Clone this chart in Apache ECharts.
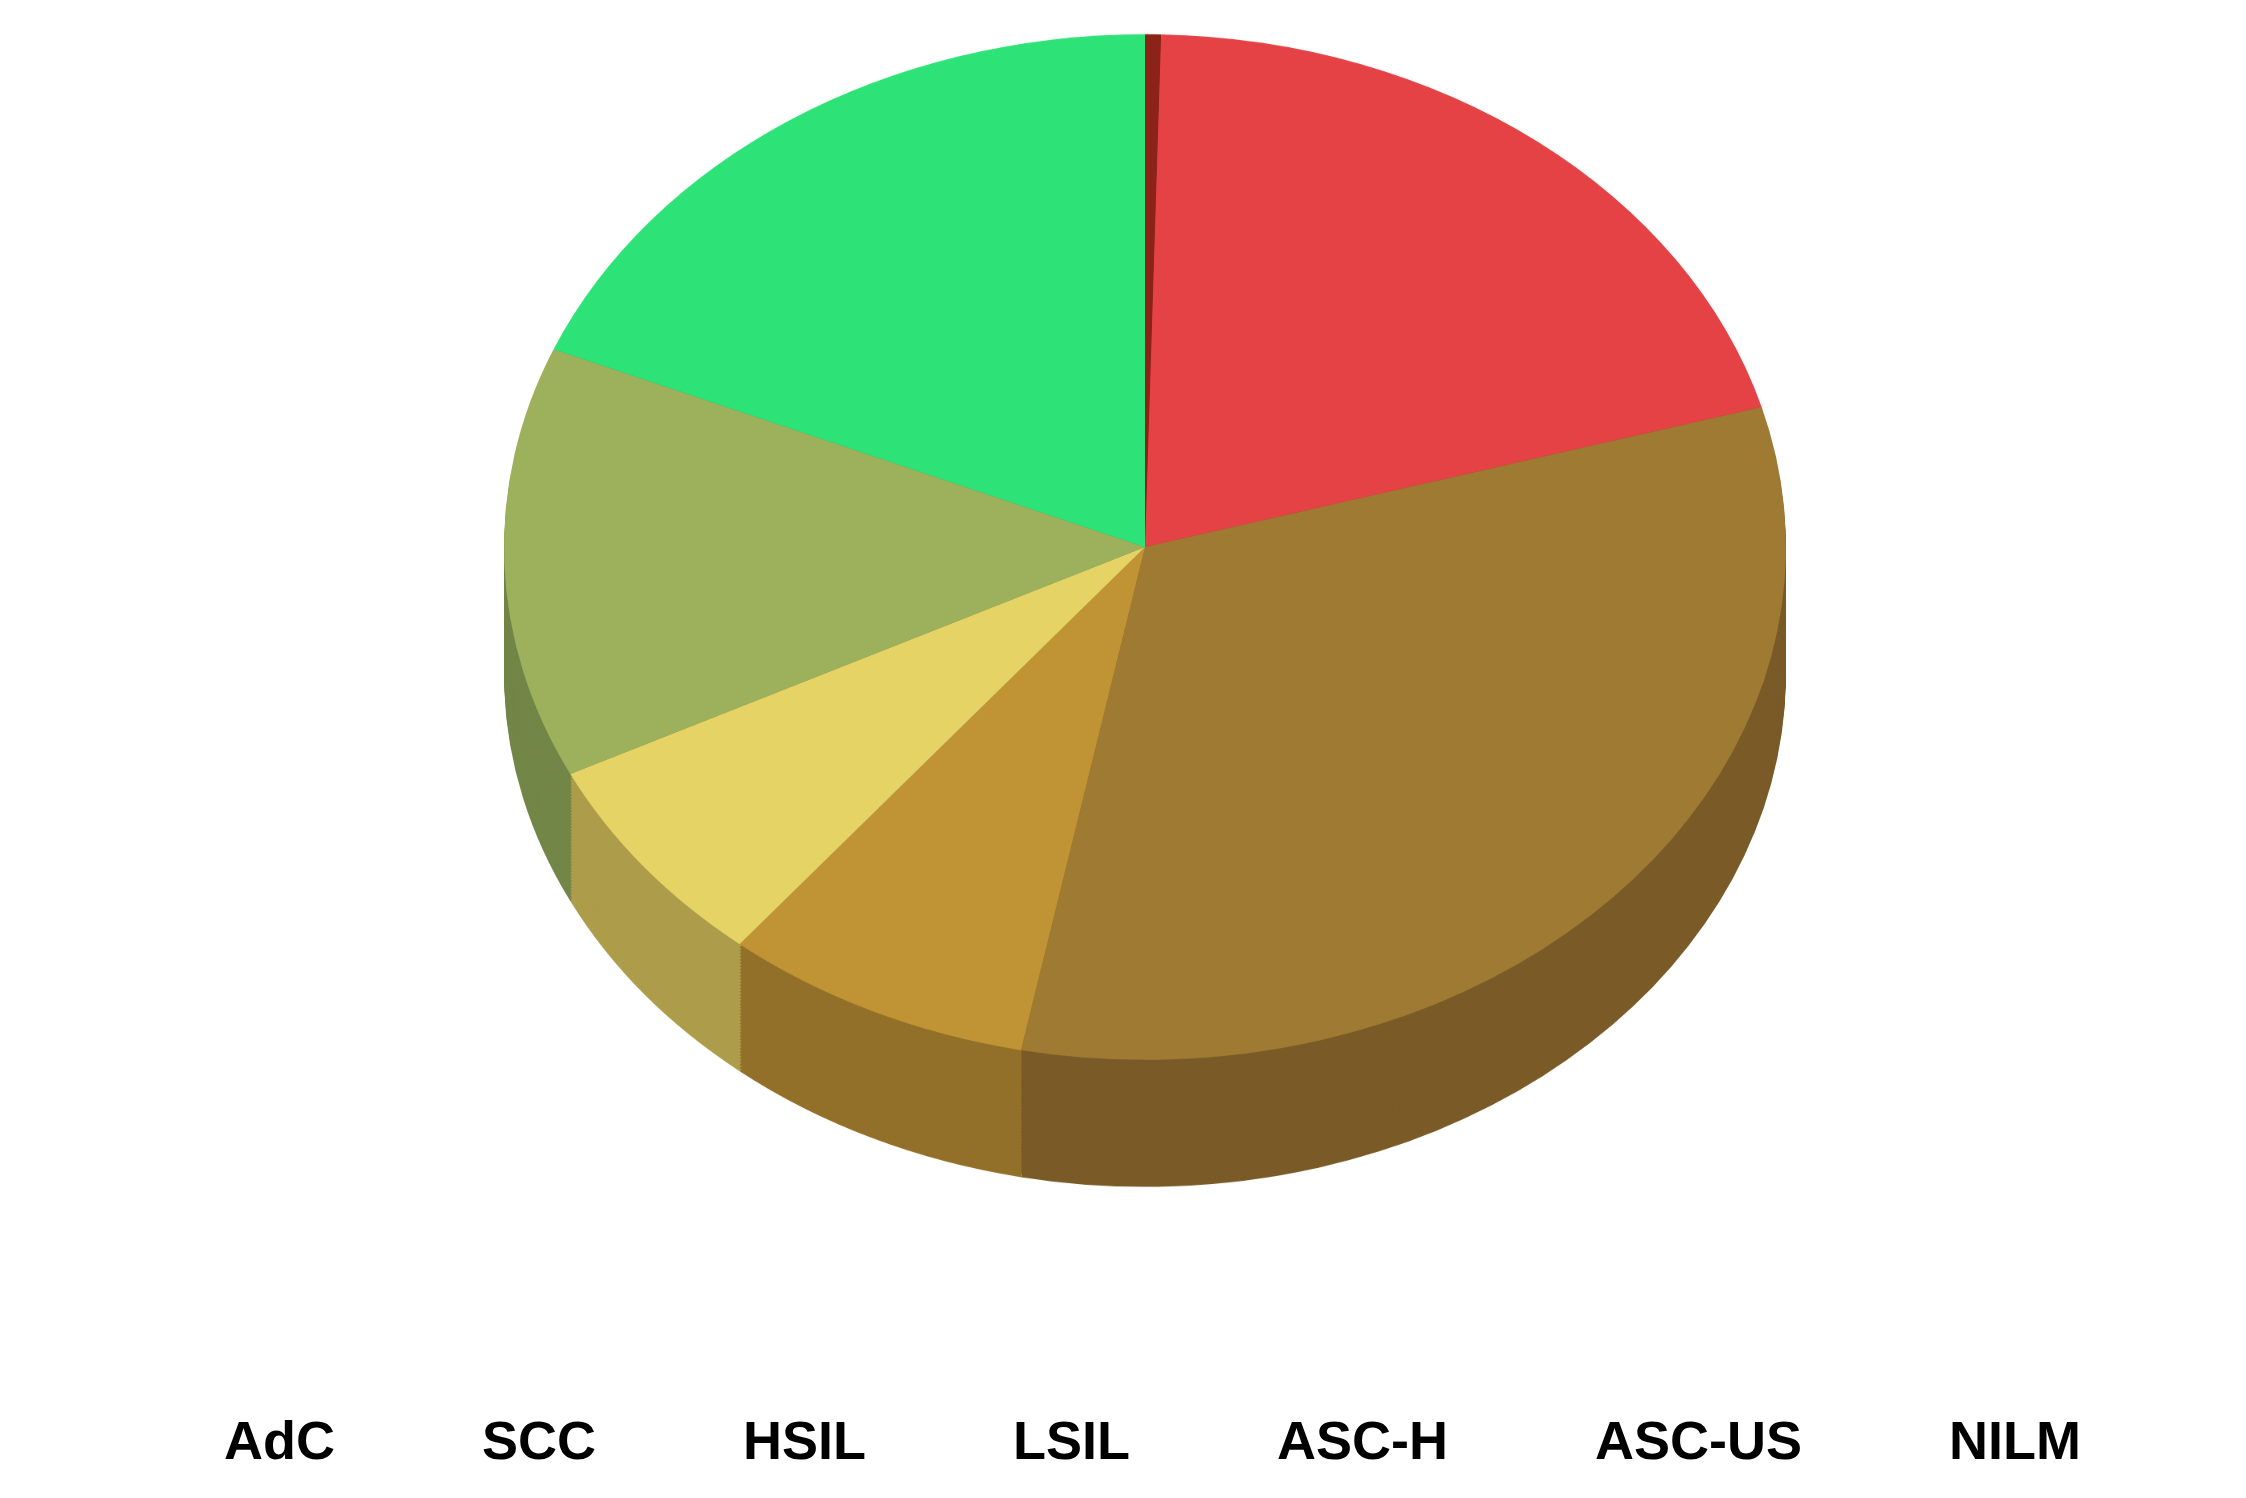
<!DOCTYPE html>
<html><head><meta charset="utf-8">
<script src="https://cdn.jsdelivr.net/npm/echarts@6/dist/echarts.min.js"></script>
<style>
body{margin:0;background:#fff;overflow:hidden}
#body3d{position:absolute;left:0;top:0;width:2246px;height:1872px;transform:scaleY(0.8);transform-origin:0 0}
#front{position:absolute;left:0;top:0;width:2246px;height:1498px}
</style></head><body>
<div id="body3d"></div><div id="front"></div>
<script>
const categories = ['AdC', 'SCC', 'HSIL', 'LSIL', 'ASC-H', 'ASC-US', 'NILM']
const values = [0.4, 20.2, 32.5, 7.8, 6.8, 13.6, 18.7]
const labels = ['', '20.2%', '32.5%', '7.8%', '', '13.6%', '18.7%']
const topColors = ['#8b2318', '#e44244', '#9e7a32', '#c09434', '#e5d366', '#9db05c', '#2de276']
const sideColors = ['#6b1a12', '#b33436', '#7a5b28', '#937029', '#ad9c4a', '#728647', '#22ad5a']

const SCALE = 0.8, CX = 1145, CY = 547, R = 641, DEPTH = 127
const cyUn = CY / SCALE, depthUn = DEPTH / SCALE

// 3D body: stacked pies, drawn in a vertically squashed container
const body = echarts.init(document.getElementById('body3d'))
const layers = []
const N = 40
for (let i = N; i >= 0; i--) {
  const isTop = i === 0
  layers.push({
    type: 'pie', silent: true, animation: false, startAngle: 90, clockwise: true,
    radius: [0, R], center: [CX, cyUn + depthUn * i / N],
    label: { show: false }, labelLine: { show: false },
    itemStyle: { borderWidth: 0 },
    data: categories.map((c, k) => ({ name: c, value: values[k],
      itemStyle: { color: isTop ? topColors[k] : sideColors[k] } }))
  })
}
body.setOption({ series: layers })

// labels and legend, unsquashed
const total = values.reduce((a, b) => a + b, 0)
const mids = []
let acc = 0
values.forEach(v => { mids.push(90 - (acc + v / 2) / total * 360); acc += v })
const front = echarts.init(document.getElementById('front'))
front.setOption({
  color: topColors,
  legend: {
    bottom: 22, left: 'center', itemGap: 88, itemWidth: 54, itemHeight: 54, icon: 'circle',
    textStyle: { fontFamily: 'Liberation Sans', fontWeight: 'bold', fontSize: 54, color: '#000' },
    data: categories
  },
  series: [{
    type: 'pie', silent: true, animation: false, startAngle: 90,
    radius: [0, R], center: [CX, CY],
    itemStyle: { opacity: 0 },
    label: { show: true, position: 'inside', formatter: p => labels[p.dataIndex],
      color: '#fff', fontFamily: 'Liberation Sans', fontWeight: 'bold', fontSize: 66 },
    labelLine: { show: false },
    labelLayout: p => {
      const a = mids[p.dataIndex] * Math.PI / 180
      return { x: CX + 0.68 * R * Math.cos(a), y: CY - 0.68 * R * Math.sin(a) * SCALE,
        align: 'center', verticalAlign: 'middle' }
    },
    data: categories.map((c, k) => ({ name: c, value: values[k] }))
  }]
})
</script></body></html>
